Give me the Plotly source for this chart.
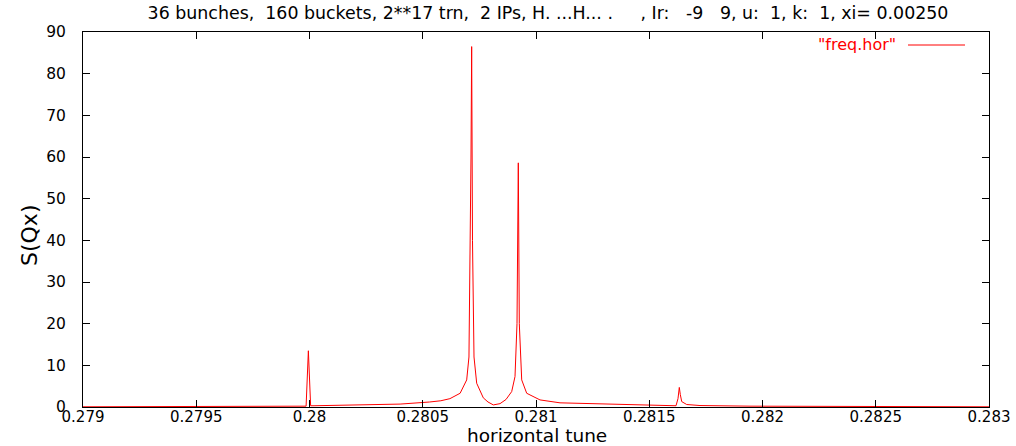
import plotly.graph_objects as go

# ---- data ----
tune = [
    0.27900, 0.27950, 0.27990, 0.279985, 0.279995, 0.280005, 0.28002,
    0.28020, 0.28040, 0.28053, 0.28058, 0.28062, 0.280665, 0.280694,
    0.280704, 0.280713, 0.280716, 0.2807196, 0.2807263, 0.2807382,
    0.2807673, 0.2807881, 0.2808115, 0.2808411, 0.2808675, 0.2808927,
    0.2809073, 0.2809161, 0.2809219, 0.2809263, 0.2809369, 0.2809589,
    0.2810177, 0.2811060, 0.2812826, 0.2815033, 0.2816181, 0.2816269,
    0.2816327, 0.2816371, 0.2816433, 0.2816653, 0.2817240, 0.2819448,
    0.2823900, 0.2830000,
]
s_qx = [
    0.05, 0.08, 0.12, 0.2, 13.5, 0.3, 0.3,
    0.45, 0.7, 1.2, 1.5, 2.0, 3.3, 6.5,
    12.0, 60.0, 86.5, 40.0, 12.0, 5.7,
    2.2, 1.2, 0.5, 0.8, 1.8, 3.7,
    7.3, 20.0, 58.6, 20.0, 6.5, 3.3,
    1.7, 1.0, 0.7, 0.4, 0.3, 2.0,
    4.7, 3.0, 1.3, 0.6, 0.35, 0.2,
    0.1, 0.05,
]
series_name = '"freq.hor"'
x_tick_vals = [0.279, 0.2795, 0.28, 0.2805, 0.281, 0.2815, 0.282, 0.2825, 0.283]
x_tick_text = ["0.279", "0.2795", "0.28", "0.2805", "0.281", "0.2815", "0.282", "0.2825", "0.283"]
y_tick_vals = [0, 10, 20, 30, 40, 50, 60, 70, 80, 90]
title_text = "36 bunches,  160 buckets, 2**17 trn,  2 IPs, H. ...H... .     , Ir:   -9   9, u:  1, k:  1, xi= 0.00250"
x_title = "horizontal tune"
y_title = "S(Qx)"

fig = go.Figure()
fig.add_trace(go.Scatter(
    x=tune, y=s_qx, mode="lines", name=series_name,
    line=dict(color="#ff0000", width=1), showlegend=False,
))

FONT = "DejaVu Sans, Liberation Sans, Arial, sans-serif"
W, H = 1016, 446
L, R, T, B = 83, 27, 32, 39
PW, PH = W - L - R, H - T - B


def px_x(px):
    return (px - L) / PW


def px_y(py):
    return 1 - (py - T) / PH


fig.update_layout(
    width=W, height=H,
    margin=dict(l=L, r=R, t=T, b=B),
    paper_bgcolor="white", plot_bgcolor="white",
    font=dict(family=FONT, color="black"),
    title=dict(text=title_text.replace(" ", "\u00a0"), x=548 / W, xanchor="center",
               y=1 - 13 / H, yanchor="middle",
               font=dict(size=17.4, family=FONT, color="black")),
)
fig.update_xaxes(
    range=[0.279, 0.283], tickvals=x_tick_vals, ticktext=x_tick_text,
    ticks="inside", ticklen=7, tickcolor="black", showline=True, linecolor="black",
    linewidth=1, mirror="ticks", showgrid=False, zeroline=False, automargin=False,
    tickfont=dict(size=15, family=FONT), ticklabelstandoff=-4,
)
fig.update_yaxes(
    range=[0, 90], tickvals=y_tick_vals,
    ticks="inside", ticklen=7, tickcolor="black", showline=True, linecolor="black",
    linewidth=1, mirror="ticks", showgrid=False, zeroline=False, automargin=False,
    tickfont=dict(size=15.5, family=FONT), ticklabelstandoff=13,
)

# axis titles
fig.add_annotation(
    xref="paper", yref="paper", x=px_x(537), y=px_y(446.5),
    text=x_title, showarrow=False, xanchor="center", yanchor="bottom",
    font=dict(size=18.5, family=FONT, color="black"), borderpad=0,
)
fig.add_annotation(
    xref="paper", yref="paper", x=px_x(29), y=px_y(236),
    text=y_title, showarrow=False, xanchor="center", yanchor="middle", textangle=-90,
    font=dict(size=22, family=FONT, color="black"),
)

# gnuplot-style key: text then line sample
fig.add_annotation(
    xref="paper", yref="paper", x=px_x(898), y=px_y(45),
    text=series_name, showarrow=False, xanchor="right", yanchor="middle",
    font=dict(size=16, family=FONT, color="#ff0000"),
)
fig.add_shape(
    type="line", xref="paper", yref="paper",
    x0=px_x(908), x1=px_x(965), y0=px_y(45), y1=px_y(45),
    line=dict(color="#ff0000", width=1),
)

fig.write_html("out.html")
